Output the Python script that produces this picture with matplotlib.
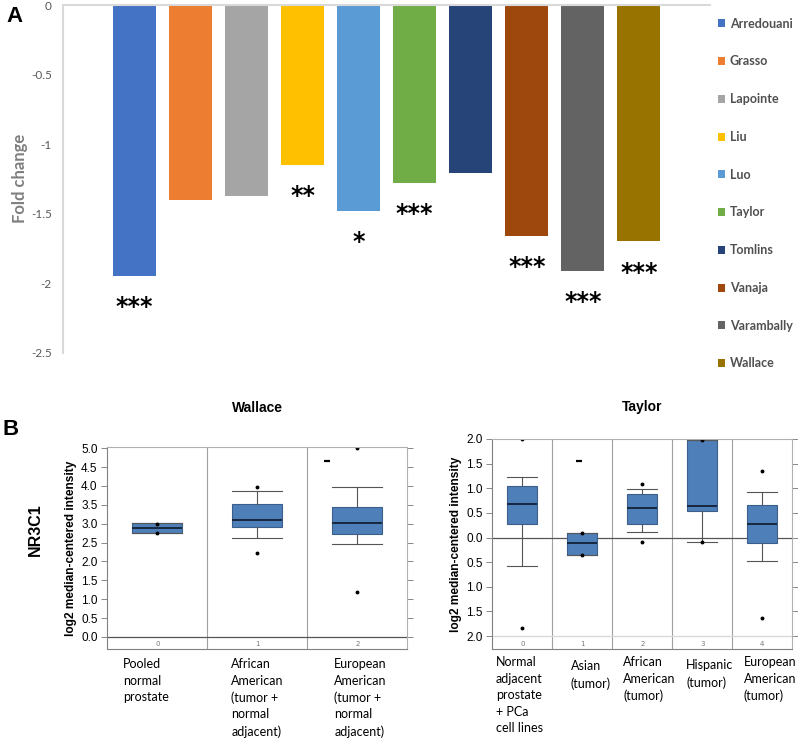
import numpy as np
import matplotlib
matplotlib.use("Agg")
import matplotlib.pyplot as plt

# panel A data
studies = ["Arredouani", "Grasso", "Lapointe", "Liu", "Luo",
           "Taylor", "Tomlins", "Vanaja", "Varambally", "Wallace"]
fold_change = [-1.95, -1.40, -1.37, -1.15, -1.48, -1.28, -1.21, -1.66, -1.91, -1.70]
stars = ["***", "", "", "**", "*", "***", "", "***", "***", "***"]
bar_colors = ["#4472C4", "#ED7D31", "#A5A5A5", "#FFC000", "#5B9BD5",
              "#70AD47", "#264478", "#9E480E", "#636363", "#997300"]

# panel B, Wallace
wallace_groups = ["Pooled\nnormal\nprostate",
                  "African\nAmerican\n(tumor +\nnormal\nadjacent)",
                  "European\nAmerican\n(tumor +\nnormal\nadjacent)"]
wallace_q1 = [2.76, 2.90, 2.74]
wallace_med = [2.89, 3.10, 3.03]
wallace_q3 = [3.01, 3.52, 3.45]
wallace_lo = [2.76, 2.61, 2.46]
wallace_hi = [3.01, 3.86, 3.96]
wallace_fliers = [[2.99, 2.76], [3.98, 2.23], [5.0, 1.19]]

# panel B, Taylor
taylor_groups = ["Normal\nadjacent\nprostate\n+ PCa\ncell lines",
                 "Asian\n(tumor)", "African\nAmerican\n(tumor)",
                 "Hispanic\n(tumor)", "European\nAmerican\n(tumor)"]
taylor_q1 = [0.27, -0.36, 0.28, 0.53, -0.11]
taylor_med = [0.69, -0.12, 0.59, 0.64, 0.28]
taylor_q3 = [1.04, 0.10, 0.89, 1.97, 0.66]
taylor_lo = [-0.57, -0.36, 0.12, -0.10, -0.47]
taylor_hi = [1.22, 0.10, 0.99, 1.97, 0.92]
taylor_fliers = [[1.99, -1.83], [0.10, -0.36], [1.09, -0.10], [1.97, -0.10], [1.36, -1.63]]
taylor_ticks = [2.0, 1.5, 1.0, 0.5, 0.0, -0.5, -1.0, -1.5, -2.0]
taylor_ticklabels = ["2.0", "1.5", "1.0", "0.5", "0.0", "0.5", "1.0", "1.5", "2.0"]

W, H = 798, 738
fig = plt.figure(figsize=(W / 100, H / 100), dpi=100)


def px_axes(x0, y0, x1, y1):
    return fig.add_axes([x0 / W, 1 - y1 / H, (x1 - x0) / W, (y1 - y0) / H])


# ---------------- panel A ----------------
axA = px_axes(63, 5, 710, 352.7)
x = np.arange(len(studies))
bars = axA.bar(x, fold_change, width=0.767, color=bar_colors, label=studies)
for i, (v, s) in enumerate(zip(fold_change, stars)):
    if s:
        axA.text(i, v - 0.225, s, ha="center", va="center", fontsize=17,
                 fontweight="bold", family="DejaVu Sans")
axA.set_xlim(-1.276, 10.27)
axA.set_ylim(-2.5, 0)
axA.set_yticks([0, -0.5, -1, -1.5, -2, -2.5])
axA.set_yticklabels(["0", "-0.5", "-1", "-1.5", "-2", "-2.5"])
axA.set_xticks([])
axA.tick_params(axis="y", length=0, pad=8, labelsize=8.5, labelcolor="#595959")
for lab in axA.get_yticklabels():
    lab.set_family("Lato")
for sp in ["right", "bottom"]:
    axA.spines[sp].set_visible(False)
for sp in ["left", "top"]:
    axA.spines[sp].set_color("#D9D9D9")
    axA.spines[sp].set_linewidth(1.5)
axA.set_ylabel("Fold change", fontsize=12, fontweight="bold", color="#7F7F7F",
               family="Lato", labelpad=2)
leg = axA.legend(handles=list(bars), labels=studies, loc="upper left",
                 bbox_to_anchor=(1.0, 0.985), frameon=False,
                 prop={"family": "Lato", "weight": "bold", "size": 9},
                 labelcolor="#505050", handlelength=0.6, handleheight=0.6,
                 handletextpad=0.4, labelspacing=2.06, borderaxespad=0.2)
fig.text(6 / W, 1 - 16 / H, "A", fontsize=16, fontweight="bold", va="center",
         family="Liberation Sans")

# ---------------- panel B ----------------
box_face = "#4F7FB8"
box_edge = "#3B5E8C"


def draw_box(ax, q1, med, q3, lo, hi, fliers):
    stats = []
    for k in range(len(q1)):
        stats.append(dict(q1=q1[k], med=med[k], q3=q3[k], whislo=lo[k],
                          whishi=hi[k], fliers=fliers[k]))
    ax.bxp(stats, positions=range(len(q1)), widths=0.5, patch_artist=True,
           boxprops=dict(facecolor=box_face, edgecolor=box_edge, linewidth=0.8),
           medianprops=dict(color="#16283F", linewidth=1.4),
           whiskerprops=dict(color="#555555", linewidth=0.8),
           capprops=dict(color="#555555", linewidth=0.8),
           capwidths=0.5,
           flierprops=dict(marker="o", markersize=1.8, markerfacecolor="black",
                           markeredgecolor="black"))
    n = len(q1)
    for b in range(1, n):
        ax.axvline(b - 0.5, color="#A0A0A0", linewidth=0.8, zorder=0)
    ax.axhline(0, color="#555555", linewidth=0.9, zorder=1)
    ax.set_xlim(-0.5, n - 0.5)
    ax.set_xticks([])
    for k in range(n):
        ax.text(k, 0.026, str(k), transform=ax.get_xaxis_transform(),
                ha="center", va="center", fontsize=5, color="#777777")
    ax.tick_params(axis="y", which="both", direction="out", length=4, width=0.7,
                   color="#888888", left=True, right=True, labelsize=8.5, pad=3)
    for sp in ["left", "bottom"]:
        ax.spines[sp].set_color("#808080")
    for sp in ["top", "right"]:
        ax.spines[sp].set_color("#B0B0B0")
    ax.set_ylabel("log2 median-centered intensity", fontsize=8.6, fontweight="bold",
                  family="Liberation Sans", labelpad=3)


# Wallace
axW = px_axes(107.3, 446.7, 407.3, 649.3)
draw_box(axW, wallace_q1, wallace_med, wallace_q3, wallace_lo, wallace_hi, wallace_fliers)
axW.set_ylim(-0.326, 5.04)
axW.set_yticks(np.arange(0, 5.01, 0.5))
axW.set_yticklabels([f"{v:.1f}" for v in np.arange(0, 5.01, 0.5)])
for lab in axW.get_yticklabels():
    lab.set_family("Liberation Sans")
axW.plot([1.7], [4.66], marker="_", color="black", markersize=5, mew=1.6)
axW.set_title("Wallace", fontsize=10, fontweight="bold", family="Liberation Sans",
              pad=25)
wal_offsets = [-0.34, -0.26, -0.23]
for k, g in enumerate(wallace_groups):
    axW.text(k + wal_offsets[k], -0.045, g, transform=axW.get_xaxis_transform(),
             ha="left", va="top", fontsize=9, family="Lato", linespacing=1.44)

# Taylor
axT = px_axes(492.3, 439, 792.3, 649.3)
draw_box(axT, taylor_q1, taylor_med, taylor_q3, taylor_lo, taylor_hi, taylor_fliers)
axT.set_ylim(-2.27, 2.0)
axT.set_yticks(taylor_ticks)
axT.set_yticklabels(taylor_ticklabels)
for lab in axT.get_yticklabels():
    lab.set_family("Liberation Sans")
axT.axhline(2.0, color="#C8C8C8", linewidth=1.2, zorder=0)
axT.axhline(-2.0, color="#D8D8D8", linewidth=1.0, zorder=0)
axT.plot([0.95], [1.55], marker="_", color="black", markersize=5, mew=1.6)
axT.set_title("Taylor", fontsize=10, fontweight="bold", family="Liberation Sans",
              pad=20)
tay_offsets = [-0.44, -0.19, -0.32, -0.27, -0.31]
tay_top = [-0.034, -0.053, -0.034, -0.048, -0.034]
for k, g in enumerate(taylor_groups):
    axT.text(k + tay_offsets[k], tay_top[k], g, transform=axT.get_xaxis_transform(),
             ha="left", va="top", fontsize=9, family="Lato", linespacing=1.44)

fig.text(35 / W, 1 - 530 / H, "NR3C1", rotation=90, fontsize=11.5, fontweight="bold",
         ha="center", va="center", family="Liberation Sans")
fig.text(2 / W, 1 - 430 / H, "B", fontsize=16, fontweight="bold", va="center",
         family="Liberation Sans")

fig.savefig("out.png", dpi=100)
